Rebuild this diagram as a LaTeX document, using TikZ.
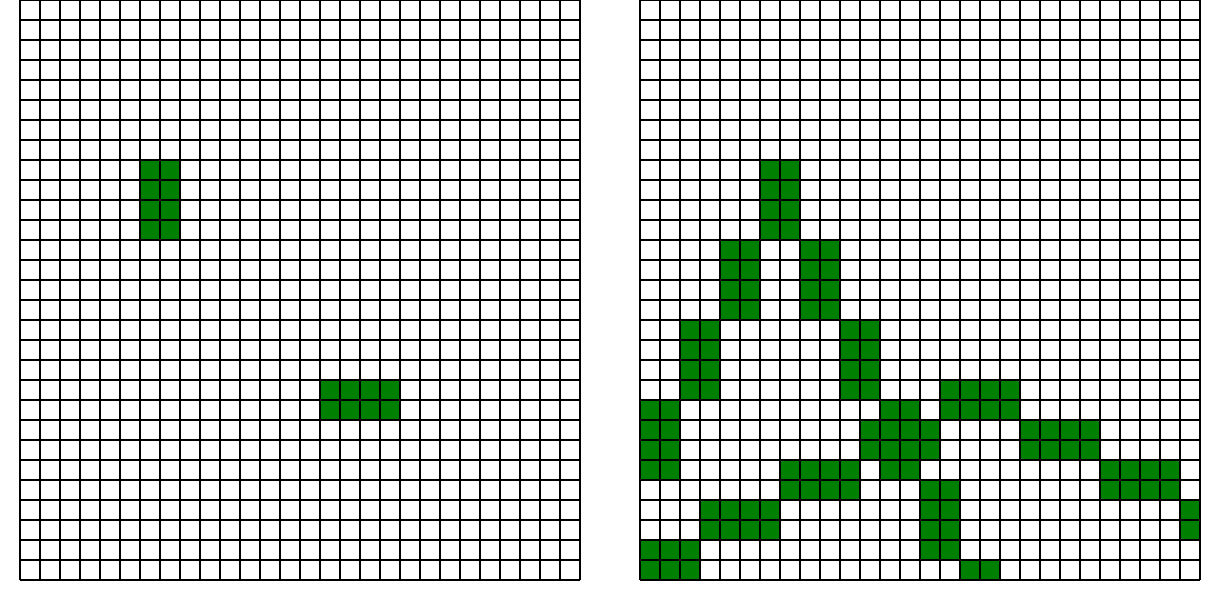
\documentclass[tikz,border=0pt]{standalone}
\definecolor{cellgreen}{RGB}{0,128,0}
\tikzset{
  cellfill/.style={fill=cellgreen},
  gridline/.style={draw=black,line width=0.8pt}
}
\begin{document}
\begin{tikzpicture}
\useasboundingbox (0,0) rectangle (915pt,-450pt);
% left grid
\begin{scope}[shift={(15pt,0pt)},x=15pt,y=-15pt]
  \foreach \c/\r/\w/\h in {6/8/2/4, 15/19/4/2}
    \fill[cellfill] (\c,\r) rectangle ++(\w,\h);
  \foreach \i in {0,...,28} \draw[gridline] (\i,0) -- (\i,29);
  \foreach \j in {0,...,29} \draw[gridline] (0,\j) -- (28,\j);
\end{scope}
% right grid
\begin{scope}[shift={(480pt,0pt)},x=15pt,y=-15pt]
  \foreach \c/\r/\w/\h in {6/8/2/4, 4/12/2/4, 8/12/2/4, 2/16/2/4, 10/16/2/4,
      15/19/4/2, 0/20/2/4, 12/20/2/1, 11/21/4/2, 19/21/4/2, 7/23/4/2,
      12/23/2/1, 23/23/4/2, 14/24/2/4, 3/25/4/2, 27/25/1/2, 0/27/3/2, 16/28/2/1}
    \fill[cellfill] (\c,\r) rectangle ++(\w,\h);
  \foreach \i in {0,...,28} \draw[gridline] (\i,0) -- (\i,29);
  \foreach \j in {0,...,29} \draw[gridline] (0,\j) -- (28,\j);
\end{scope}
\end{tikzpicture}
\end{document}
